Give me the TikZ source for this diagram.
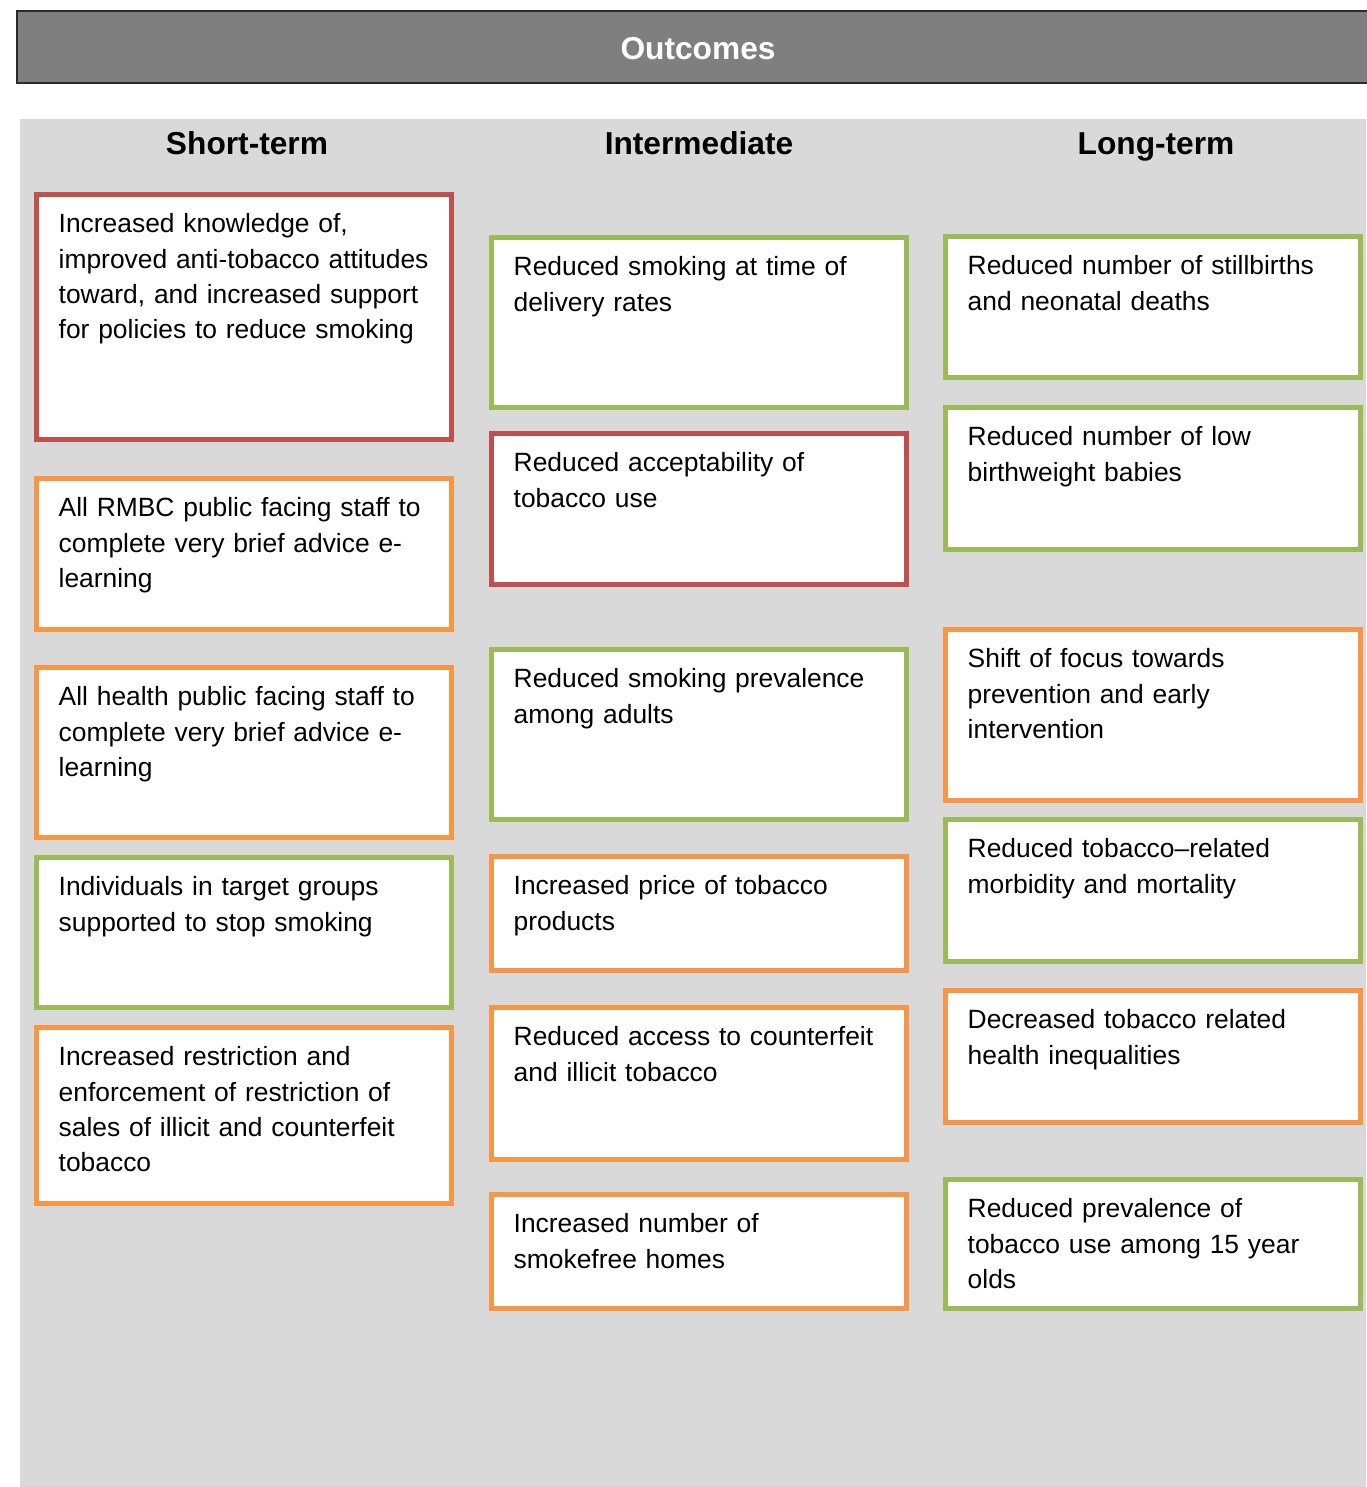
\documentclass[tikz,border=0pt]{standalone}
\usepackage{fontspec}
\setmainfont{Liberation Sans}
\definecolor{outred}{HTML}{C0504D}
\definecolor{outgreen}{HTML}{9BBB59}
\definecolor{outorange}{HTML}{F79646}
\definecolor{panelgray}{HTML}{D9D9D9}
\definecolor{bargray}{HTML}{7F7F7F}
\definecolor{bardark}{HTML}{2B2B2B}
\begin{document}
\begin{tikzpicture}[x=1pt, y=-1pt]
        \tikzstyle{outbox}=[draw, fill=white, line width=5pt, inner sep=0pt, anchor=north west, minimum width=415pt]
        \tikzstyle{boxtext}=[anchor=north west, inner sep=0pt, text width=390pt, align=left, font=\fontsize{26.4}{35.3}\selectfont]
        \tikzstyle{headtext}=[anchor=base, inner sep=0pt, font=\fontsize{31.7}{38}\selectfont\bfseries]

        \useasboundingbox (0,0) rectangle (1366,1487);

        % title bar across the top
        \draw[fill=bargray, draw=bardark, line width=1.5pt] (17,11) rectangle (1372,83);
        \node[headtext, text=white] (outcomes) at (698,60) {Outcomes};

        % grey panel behind the columns
        \fill[panelgray] (20,119) rectangle (1366,1487);

        % column headings
        \node[headtext] (short) at (247,155) {Short-term};
        \node[headtext] (inter) at (699,155) {Intermediate};
        \node[headtext] (long) at (1156,155) {Long-term};

        % short-term column
        \foreach \name/\x/\y/\h/\col/\txt in {
          st1/34/192/250/outred/{Increased knowledge of,\\improved anti-tobacco attitudes\\toward, and increased support\\for policies to reduce smoking},
          st2/34/476/156/outorange/{All RMBC public facing staff to\\complete very brief advice e-\\learning},
          st3/34/665/175/outorange/{All health public facing staff to\\complete very brief advice e-\\learning},
          st4/34/855/155/outgreen/{Individuals in target groups\\supported to stop smoking},
          st5/34/1025/181/outorange/{Increased restriction and\\enforcement of restriction of\\sales of illicit and counterfeit\\tobacco}}
        {
          % box first, then its text at the top left
          \node[outbox, draw=\col, minimum height=\h-5] (\name) at (\x, \y) {};
          \node[boxtext] (\name-txt) at ([xshift=24.5pt, yshift=-21.5pt]\name.north west) {\txt};
        };

        % intermediate column
        \foreach \name/\x/\y/\h/\col/\txt in {
          im1/489/235/175/outgreen/{Reduced smoking at time of\\delivery rates},
          im2/489/431/156/outred/{Reduced acceptability of\\tobacco use},
          im3/489/647/175/outgreen/{Reduced smoking prevalence\\among adults},
          im4/489/854/119/outorange/{Increased price of tobacco\\products},
          im5/489/1005/157/outorange/{Reduced access to counterfeit\\and illicit tobacco},
          im6/489/1192/119/outorange/{Increased number of\\smokefree homes}}
        {
          \node[outbox, draw=\col, minimum height=\h-5] (\name) at (\x, \y) {};
          \node[boxtext] (\name-txt) at ([xshift=24.5pt, yshift=-21.5pt]\name.north west) {\txt};
        };

        % long-term column
        \foreach \name/\x/\y/\h/\col/\txt in {
          lt1/943/234/146/outgreen/{Reduced number of stillbirths\\and neonatal deaths},
          lt2/943/405/147/outgreen/{Reduced number of low\\birthweight babies},
          lt3/943/627/176/outorange/{Shift of focus towards\\prevention and early\\intervention},
          lt4/943/817/147/outgreen/{Reduced tobacco–related\\morbidity and mortality},
          lt5/943/988/137/outorange/{Decreased tobacco related\\health inequalities},
          lt6/943/1177/134/outgreen/{Reduced prevalence of\\tobacco use among 15 year\\olds}}
        {
          \node[outbox, draw=\col, minimum height=\h-5] (\name) at (\x, \y) {};
          \node[boxtext] (\name-txt) at ([xshift=24.5pt, yshift=-21.5pt]\name.north west) {\txt};
        };
\end{tikzpicture}
\end{document}
